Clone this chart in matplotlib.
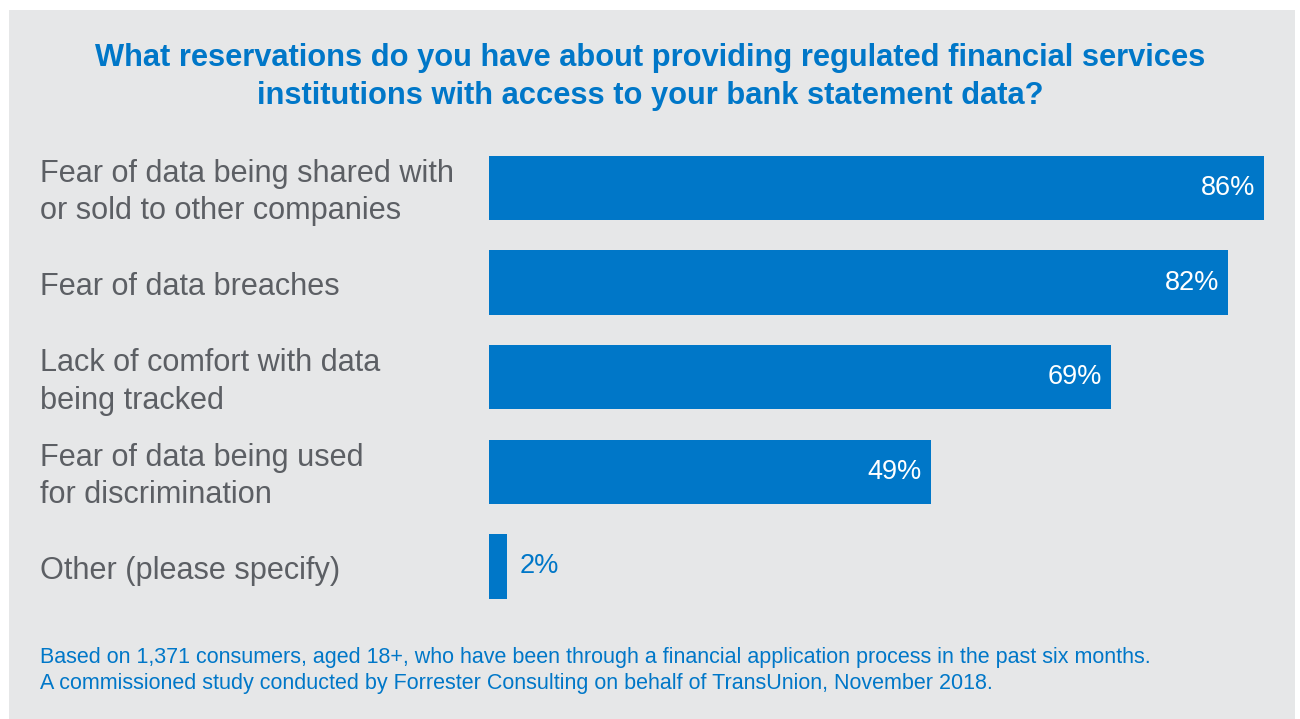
import matplotlib.pyplot as plt
from matplotlib.patches import Rectangle
from matplotlib.transforms import blended_transform_factory

# data
categories = ["Fear of data being shared with\nor sold to other companies",
              "Fear of data breaches",
              "Lack of comfort with data\nbeing tracked",
              "Fear of data being used\nfor discrimination",
              "Other (please specify)"]
values = [86, 82, 69, 49, 2]

title = ("What reservations do you have about providing regulated financial services\n"
         "institutions with access to your bank statement data?")
note = ("Based on 1,371 consumers, aged 18+, who have been through a financial application process in the past six months.\n"
        "A commissioned study conducted by Forrester Consulting on behalf of TransUnion, November 2018.")

blue = "#0077c8"
bg = "#e6e7e8"
W, H = 1300, 719

plt.rcParams['font.family'] = ['Liberation Sans', 'DejaVu Sans']

fig = plt.figure(figsize=(W / 100, H / 100), dpi=100)
fig.patch.set_facecolor("white")
fig.patches.append(Rectangle((9 / W, 0), (1295 - 9) / W, (H - 10) / H,
                             transform=fig.transFigure, facecolor=bg,
                             edgecolor="none", zorder=-10))

# axes: x 489..1264 px for 0..86, rows centred at 188 .. 566.5 px
left, right = 489, 1264
top, bottom = 140.7, 613.8
ax = fig.add_axes([left / W, 1 - bottom / H, (right - left) / W, (bottom - top) / H])
ax.set_xlim(0, 86)
ax.set_ylim(4.5, -0.5)
ax.axis("off")

ypos = list(range(len(values)))
ax.barh(ypos, values, height=0.68, color=blue, zorder=2)

tr = blended_transform_factory(fig.transFigure, ax.transData)
for y, cat, v in zip(ypos, categories, values):
    ax.text(40 / W, y + 0.05, cat, transform=tr, ha="left", va="center",
            fontsize=22.1, color="#5c5f64", linespacing=1.32)
    if v > 10:
        ax.text(v - 1.0, y, f"{v}%", ha="right", va="center",
                fontsize=19.5, color="white", zorder=3)
    else:
        ax.text(v + 1.4, y, f"{v}%", ha="left", va="center",
                fontsize=19.5, color=blue, zorder=3)

fig.text(0.5, 1 - 77 / H, title, ha="center", va="center", fontsize=22.2,
         fontweight="bold", color=blue, linespacing=1.39)
fig.text(40 / W, 1 - 670.5 / H, note, ha="left", va="center", fontsize=15.5,
         color=blue, linespacing=1.31)

fig.savefig("out.png", dpi=100, facecolor=fig.get_facecolor())
